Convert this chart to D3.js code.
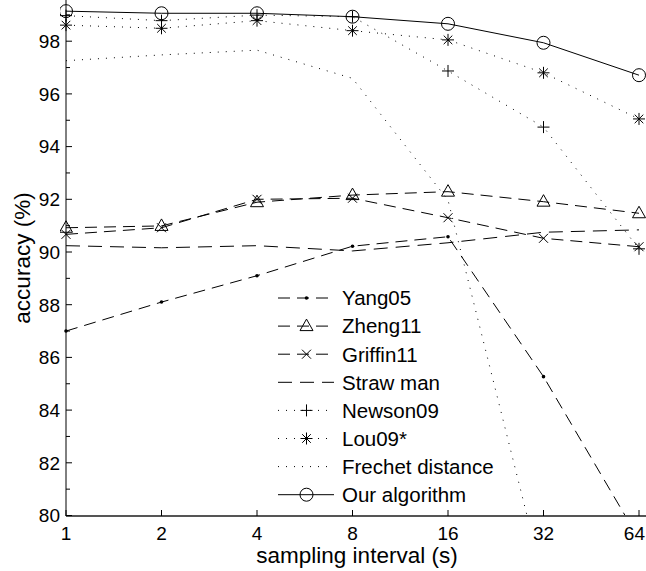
<!DOCTYPE html>
<html>
<head>
<meta charset="utf-8">
<script src="https://cdn.jsdelivr.net/npm/d3@7"></script>
<style>
  body { margin: 0; background: #fff; }
  text { font-family: "Liberation Sans", Arial, sans-serif; fill: #000; }
</style>
</head>
<body>
<div id="chart"></div>
<script>
// sampling intervals (s)
var intervals = [1, 2, 4, 8, 16, 32, 64];
var xTicks = [1, 2, 4, 8, 16, 32, 64];
var yTicks = [80, 82, 84, 86, 88, 90, 92, 94, 96, 98];
var yMinor = [81, 83, 85, 87, 89, 91, 93, 95, 97, 99];

// accuracy (%) per method
var yang05 = [87.0, 88.1, 89.1, 90.22, 90.58, 85.27, 79.1];
var zheng11 = [90.92, 90.99, 91.89, 92.16, 92.29, 91.91, 91.47];
var griffin11 = [90.67, 90.92, 92.0, 92.04, 91.3, 90.52, 90.2];
var strawMan = [90.24, 90.16, 90.24, 90.04, 90.35, 90.75, 90.84];
var newson09 = [98.97, 98.78, 98.99, 98.93, 96.87, 94.74, 90.12];
var lou09 = [98.61, 98.49, 98.78, 98.4, 98.05, 96.8, 95.05];
var frechet = [97.26, 97.48, 97.66, 96.59, 91.97, 77.5, 70.0];
var ours = [99.14, 99.06, 99.06, 98.93, 98.66, 97.94, 96.71];

var names = ["Yang05", "Zheng11", "Griffin11", "Straw man", "Newson09", "Lou09*", "Frechet distance", "Our algorithm"];

var W = 646, H = 571;
var svg = d3.select("#chart").append("svg")
    .attr("width", W)
    .attr("height", H);

var x = d3.scaleLog().base(2).domain([1, 64]).range([66, 639]);
var y = d3.scaleLinear().domain([80, 100]).range([515.5, -11.5]);

var DASH = "12,7", DOT = "1,7", LONG = "14,8";

var series = [
  {name: names[0], vals: yang05, dash: DASH, marker: "dot"},
  {name: names[1], vals: zheng11, dash: DASH, marker: "tri"},
  {name: names[2], vals: griffin11, dash: DASH, marker: "x"},
  {name: names[3], vals: strawMan, dash: LONG, marker: null},
  {name: names[4], vals: newson09, dash: DOT, marker: "plus"},
  {name: names[5], vals: lou09, dash: DOT, marker: "star"},
  {name: names[6], vals: frechet, dash: DOT, marker: null},
  {name: names[7], vals: ours, dash: null, marker: "circle"}
];

// marker shapes as path strings
function markerPath(type) {
  if (type == "tri") return "M0,-7L6.5,4.5L-6.5,4.5Z";
  if (type == "x") return "M-4.5,-4.5L4.5,4.5M-4.5,4.5L4.5,-4.5";
  if (type == "plus") return "M-6,0L6,0M0,-6L0,6";
  if (type == "star") return "M-6,0L6,0M0,-6L0,6M-4.3,-4.3L4.3,4.3M-4.3,4.3L4.3,-4.3";
  return null;
}

function drawMarker(g, type, cx, cy) {
  if (type == "dot") {
    g.append("circle").attr("cx", cx).attr("cy", cy).attr("r", 1.8).attr("fill", "#000");
  } else if (type == "circle") {
    g.append("circle").attr("cx", cx).attr("cy", cy).attr("r", 6.5)
      .attr("fill", "none").attr("stroke", "#000").attr("stroke-width", 1);
  } else if (type) {
    g.append("path").attr("d", markerPath(type))
      .attr("transform", "translate(" + cx + "," + cy + ")")
      .attr("fill", "none").attr("stroke", "#000").attr("stroke-width", 1);
  }
}

svg.append("clipPath").attr("id", "plotclip")
  .append("rect").attr("x", 60).attr("y", -20).attr("width", 600).attr("height", 535.5 );

var lineGen = d3.line()
    .x(function(d, i){ return x(intervals[i]); })
    .y(function(d){ return y(d); });

var plot = svg.append("g").attr("clip-path", "url(#plotclip)");

series.forEach(function(s){
  plot.append("path")
    .attr("d", lineGen(s.vals))
    .attr("fill", "none")
    .attr("stroke", "#000")
    .attr("stroke-width", 1)
    .attr("stroke-dasharray", s.dash);
  s.vals.forEach(function(v, i){
    if (v >= 80) drawMarker(plot, s.marker, x(intervals[i]), y(v));
  });
});

// axes (left and bottom only, ticks inside)
var axes = svg.append("g");
axes.append("line").attr("x1", 66).attr("x2", 66).attr("y1", 0).attr("y2", 516)
  .attr("stroke", "#000").attr("stroke-width", 1);
axes.append("line").attr("x1", 66).attr("x2", 646).attr("y1", 516).attr("y2", 516)
  .attr("stroke", "#555").attr("stroke-width", 2);

yTicks.forEach(function(t){
  axes.append("line").attr("x1", 66).attr("x2", 72).attr("y1", y(t)).attr("y2", y(t))
    .attr("stroke", "#000");
  axes.append("text").attr("x", 60).attr("y", y(t)).attr("dy", "0.36em")
    .attr("text-anchor", "end").attr("font-size", 19).text(t);
});
yMinor.forEach(function(t){
  axes.append("line").attr("x1", 66).attr("x2", 70).attr("y1", y(t)).attr("y2", y(t))
    .attr("stroke", "#000");
});
xTicks.forEach(function(t){
  axes.append("line").attr("x1", x(t)).attr("x2", x(t)).attr("y1", 516).attr("y2", 510)
    .attr("stroke", "#000");
  // last label pushed in so it stays on the page
  var last = t == 64;
  axes.append("text").attr("x", last ? 645 : x(t)).attr("y", 540)
    .attr("text-anchor", last ? "end" : "middle").attr("font-size", 19).text(t);
});

svg.append("text").attr("x", 357).attr("y", 563)
  .attr("text-anchor", "middle").attr("font-size", 22.5).text("sampling interval (s)");
svg.append("text").attr("transform", "translate(30,258) rotate(-90)")
  .attr("text-anchor", "middle").attr("font-size", 22.5).text("accuracy (%)");

// legend, no box
var legend = svg.append("g");
series.forEach(function(s, i){
  var ly = 298 + i * 28.1;
  legend.append("line").attr("x1", 278).attr("x2", 334).attr("y1", ly).attr("y2", ly)
    .attr("stroke", "#000").attr("stroke-width", 1).attr("stroke-dasharray", s.dash);
  drawMarker(legend, s.marker, 306.5, ly);
  legend.append("text").attr("x", 342).attr("y", ly).attr("dy", "0.36em")
    .attr("font-size", 20.5).text(s.name);
});
</script>
</body>
</html>
